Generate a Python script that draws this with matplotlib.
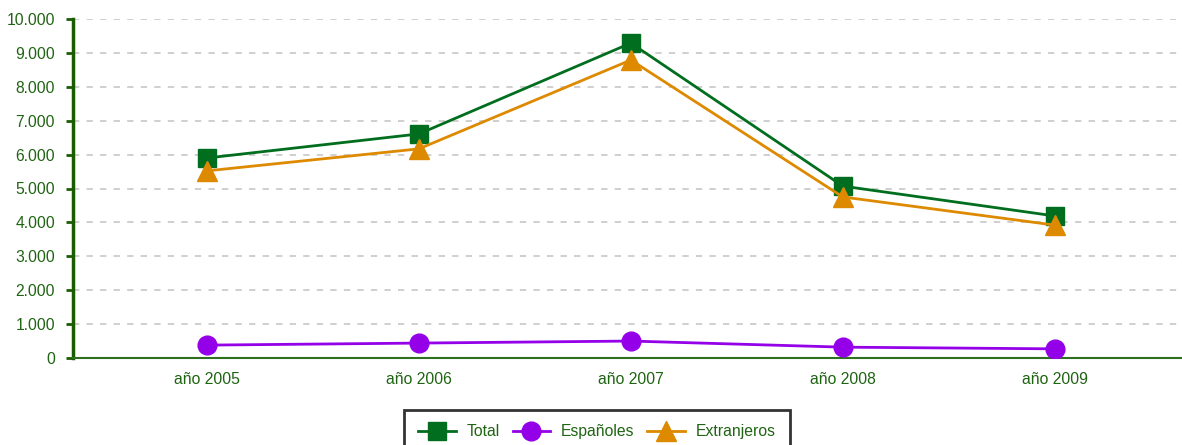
import matplotlib
matplotlib.use("Agg")
import matplotlib.pyplot as plt
from matplotlib.ticker import FuncFormatter

categories = ["año 2005", "año 2006", "año 2007", "año 2008", "año 2009"]
total = [5900, 6610, 9290, 5070, 4190]
espanoles = [380, 440, 500, 320, 270]
extranjeros = [5520, 6170, 8790, 4750, 3920]

plt.rcParams['font.family'] = ['Liberation Sans', 'DejaVu Sans']
txt = '#1f6412'
fs = 11.3

fig = plt.figure(figsize=(11.82, 4.45), dpi=100)
ax = fig.add_axes([73/1182, 1-358/445, 1-73/1182, (358-19)/445])

x = list(range(len(categories)))
l1, = ax.plot(x, total, color='#006e1e', lw=2, marker='s', ms=13, label='Total', zorder=4)
l2, = ax.plot(x, espanoles, color='#9400e8', lw=2, marker='o', ms=13.5, label='Españoles', zorder=3)
l3, = ax.plot(x, extranjeros, color='#dd8a00', lw=2, marker='^', ms=14, label='Extranjeros', zorder=5)

ax.set_ylim(0, 10000)
ax.set_xlim(-0.632, 4.6)
ax.set_yticks(range(0, 10001, 1000))
ax.yaxis.set_major_formatter(FuncFormatter(lambda v, p: f"{int(v):,}".replace(",", ".")))
ax.set_xticks(x)
ax.set_xticklabels(categories)
ax.tick_params(axis='x', length=0, pad=10, labelsize=fs, labelcolor=txt)
ax.tick_params(axis='y', length=5, width=2, color='#1a5c00', pad=8, labelsize=fs, labelcolor=txt)
ax.grid(axis='y', color='#cccccc', linestyle=(0, (3.5, 4)), lw=1.3, zorder=1)
ax.set_axisbelow(True)
for s in ['top', 'right']:
    ax.spines[s].set_visible(False)
ax.spines['left'].set_color('#1a5c00')
ax.spines['left'].set_linewidth(2.5)
ax.spines['bottom'].set_color('#2f6f20')
ax.spines['bottom'].set_linewidth(1.5)

leg = fig.legend(handles=[l1, l2, l3], loc='upper center', bbox_to_anchor=(597/1182, 1-410/445),
                 ncol=3, frameon=True, fancybox=False, fontsize=fs, handlelength=2.4,
                 columnspacing=0.8, handletextpad=0.7, borderpad=0.9, borderaxespad=0,
                 markerscale=1.0)
leg.get_frame().set_edgecolor('black')
leg.get_frame().set_linewidth(2)
for t in leg.get_texts():
    t.set_color(txt)

fig.savefig('out.png', dpi=100)
